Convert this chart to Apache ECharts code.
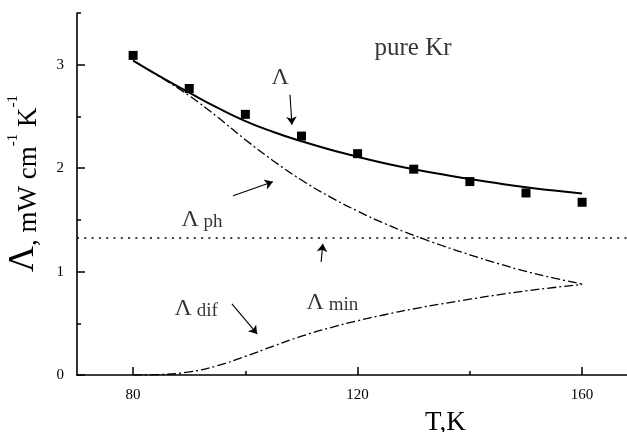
<!DOCTYPE html>
<html>
<head>
<meta charset="utf-8">
<script src="https://cdn.jsdelivr.net/npm/echarts@6/dist/echarts.min.js"></script>
<style>
  html, body { margin: 0; padding: 0; background: #fff; }
  #chart { width: 627px; height: 432px; }
</style>
</head>
<body>
<div id="chart"></div>
<script>
// Temperature grid (K) for the model curves
const temps = [80, 85, 90, 95, 100, 105, 110, 115, 120, 125, 130, 135, 140, 145, 150, 155, 160];
// Total thermal conductivity, fitted curve (mW cm^-1 K^-1)
const lambdaFit = [3.04, 2.88, 2.73, 2.585, 2.455, 2.35, 2.26, 2.18, 2.11, 2.045, 1.99, 1.94, 1.895, 1.853, 1.815, 1.783, 1.755];
// Phonon contribution
const lambdaPh = [3.04, 2.875, 2.70, 2.495, 2.275, 2.07, 1.885, 1.725, 1.585, 1.46, 1.35, 1.252, 1.162, 1.078, 1.002, 0.937, 0.879];
// Diffusive contribution
const lambdaDif = [0, 0.005, 0.03, 0.09, 0.18, 0.28, 0.375, 0.455, 0.525, 0.585, 0.64, 0.688, 0.733, 0.775, 0.813, 0.846, 0.876];
// Measured points
const measuredT = [80, 90, 100, 110, 120, 130, 140, 150, 160];
const measuredLambda = [3.09, 2.77, 2.52, 2.31, 2.14, 1.99, 1.87, 1.76, 1.67];
// Minimum thermal conductivity
const lambdaMin = 1.33;
// Axis ticks
const xMajorTicks = [80, 120, 160];
const xMinorTicks = [100, 140];
const yMajorTicks = [0, 1, 2, 3];
const yMinorTicks = [0.5, 1.5, 2.5, 3.5];

const FONT = '"Liberation Serif", "Times New Roman", serif';
const INK = '#000';

const pairs = (xs, ys) => xs.map((x, i) => [x, ys[i]]);

// Text annotations placed in data coordinates
const notes = [
  { value: [104.74, 2.75], text: '{L|Λ}' },
  { value: [88.7, 1.384], text: '{L|Λ}{s| ph}' },
  { value: [111.0, 0.581], text: '{L|Λ}{s| min}' },
  { value: [87.46, 0.523], text: '{L|Λ}{s| dif}' },
  { value: [123.1, 3.03], text: '{t|pure Kr}' }
];
// Pointer arrows (from, to) in data coordinates
const arrows = [
  [[107.95, 2.71], [108.3, 2.42]],
  [[97.8, 1.733], [104.9, 1.868]],
  [[113.5, 1.094], [113.8, 1.268]],
  [[97.6, 0.687], [102.1, 0.397]]
];

const dashDot = [9, 3, 2, 3];

const chart = echarts.init(document.getElementById('chart'), null, { renderer: 'canvas' });

const xBase = {
  type: 'value', min: 70, max: 168, gridIndex: 0, position: 'bottom',
  splitLine: { show: false }
};
const yBase = {
  type: 'value', min: 0, max: 3.5, gridIndex: 0, position: 'left',
  splitLine: { show: false }
};

chart.setOption({
  animation: false,
  backgroundColor: '#fff',
  textStyle: { fontFamily: FONT, color: INK },
  grid: { left: 77, right: 0, top: 13, bottom: 57, containLabel: false, outerBoundsMode: 'none' },
  xAxis: [
    Object.assign({}, xBase, {
      axisLine: { show: true, lineStyle: { color: INK, width: 1.6 } },
      axisTick: { show: true, inside: true, length: 8, lineStyle: { color: INK, width: 1.5 }, customValues: xMajorTicks },
      axisLabel: { show: true, margin: 13, fontSize: 15, color: INK, fontFamily: FONT, customValues: xMajorTicks }
    }),
    Object.assign({}, xBase, {
      axisLine: { show: false, onZero: false },
      axisTick: { show: true, inside: true, length: 4, lineStyle: { color: INK, width: 1.5 }, customValues: xMinorTicks },
      axisLabel: { show: false }
    })
  ],
  yAxis: [
    Object.assign({}, yBase, {
      axisLine: { show: true, lineStyle: { color: INK, width: 1.6 } },
      axisTick: { show: true, inside: true, length: 8, lineStyle: { color: INK, width: 1.5 }, customValues: yMajorTicks },
      axisLabel: { show: true, margin: 13, fontSize: 15, color: INK, fontFamily: FONT, customValues: yMajorTicks }
    }),
    Object.assign({}, yBase, {
      axisLine: { show: false, onZero: false },
      axisTick: { show: true, inside: true, length: 4, lineStyle: { color: INK, width: 1.5 }, customValues: yMinorTicks },
      axisLabel: { show: false }
    })
  ],
  series: [
    {
      name: 'Λ measured', type: 'scatter',
      data: pairs(measuredT, measuredLambda),
      symbol: 'rect', symbolSize: 9,
      itemStyle: { color: INK, opacity: 1 },
      z: 5,
      markLine: {
        silent: true, symbol: ['none', 'none'],
        label: { show: false },
        lineStyle: { color: INK, width: 1.6, type: [2, 5.3], opacity: 1 },
        data: [{ yAxis: lambdaMin }]
      }
    },
    {
      name: 'Λ', type: 'line', data: pairs(temps, lambdaFit),
      smooth: true, showSymbol: false, symbol: 'none',
      lineStyle: { color: INK, width: 2 }
    },
    {
      name: 'Λph', type: 'line', data: pairs(temps, lambdaPh),
      smooth: true, showSymbol: false, symbol: 'none',
      lineStyle: { color: INK, width: 1.3, type: dashDot }
    },
    {
      name: 'Λdif', type: 'line', data: pairs(temps, lambdaDif),
      smooth: true, showSymbol: false, symbol: 'none',
      lineStyle: { color: INK, width: 1.3, type: dashDot }
    },
    {
      name: 'notes', type: 'scatter', silent: true,
      symbolSize: 1, itemStyle: { color: 'rgba(0,0,0,0)' },
      data: notes.map(n => ({ value: n.value, label: { formatter: n.text } })),
      label: {
        show: true, position: [0, 0], align: 'left', verticalAlign: 'bottom',
        color: INK, fontFamily: FONT,
        rich: {
          L: { fontSize: 24, fontFamily: FONT, color: INK, verticalAlign: 'bottom' },
          s: { fontSize: 19, fontFamily: FONT, color: INK, verticalAlign: 'bottom' },
          t: { fontSize: 25, fontFamily: FONT, color: INK, verticalAlign: 'bottom' }
        }
      },
      markLine: {
        silent: true, symbol: ['none', 'arrow'], symbolSize: 8,
        label: { show: false },
        lineStyle: { color: INK, width: 1.1, type: 'solid', opacity: 1 },
        itemStyle: { color: INK },
        data: arrows.map(a => [{ coord: a[0] }, { coord: a[1] }])
      }
    }
  ],
  graphic: [
    {
      type: 'text', x: 42, y: 272, rotation: Math.PI / 2,
      style: {
        text: '{L|Λ}{r|, mW cm}{u|-1}{r| K}{u|-1}',
        align: 'left', verticalAlign: 'bottom', fill: INK,
        rich: {
          L: { fontSize: 36, fontFamily: FONT, fill: INK, verticalAlign: 'bottom' },
          r: { fontSize: 27, fontFamily: FONT, fill: INK, verticalAlign: 'bottom' },
          u: { fontSize: 15, fontFamily: FONT, fill: INK, verticalAlign: 'top' }
        }
      }
    },
    {
      type: 'text', x: 425, y: 436,
      style: { text: 'T,K', fontSize: 27, fontFamily: FONT, fill: INK, align: 'left', verticalAlign: 'bottom' }
    }
  ]
});
</script>
</body>
</html>
